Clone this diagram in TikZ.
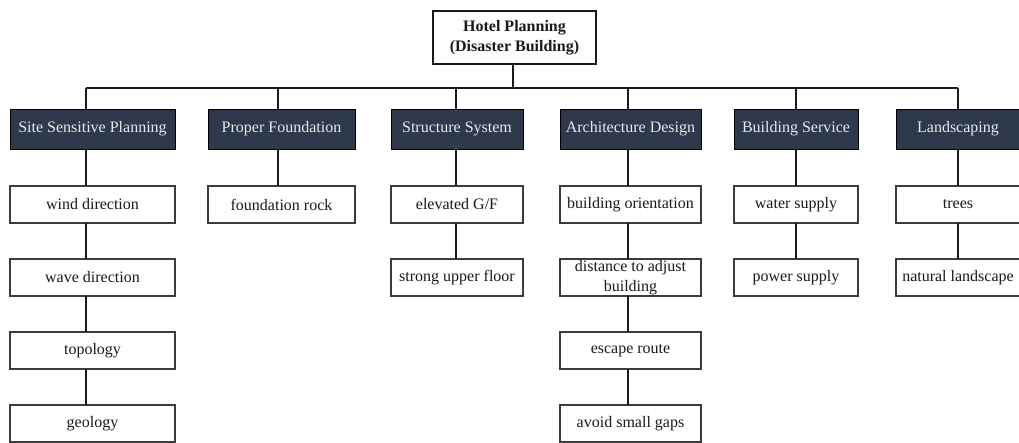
\documentclass[tikz,border=0pt]{standalone}
\usepackage{fontspec}
\setmainfont{Liberation Serif}
\usetikzlibrary{calc}
\definecolor{hdr}{HTML}{2E3A4B}
\definecolor{hdrtext}{HTML}{E8E8E8}
\definecolor{ink}{HTML}{1A1A1A}
\begin{document}
\begin{tikzpicture}[x=1pt,y=-1pt,
  every node/.style={inner sep=0pt,outer sep=0pt,font=\fontsize{16}{20}\selectfont,align=center},
  topbox/.style={draw=ink,line width=1.3pt,fill=white,text=ink,minimum width=163,minimum height=53,font=\fontsize{16}{20}\selectfont\bfseries},
  hdrbox/.style={draw=black,line width=0.8pt,fill=hdr,text=hdrtext,minimum height=40},
  leafbox/.style={draw=ink!85,line width=1.1pt,fill=white,text=ink,minimum height=37},
  conn/.style={draw=ink,line width=1.3pt}]
\useasboundingbox (0,0) rectangle (1019,442);
% top
\node[topbox] (top) at (514.5,37.5) {Hotel Planning\\(Disaster Building)};
% headers
\node[hdrbox,minimum width=165] (h1) at (92.5,129) {Site Sensitive Planning};
\node[hdrbox,minimum width=147] (h2) at (281.5,129) {Proper Foundation};
\node[hdrbox,minimum width=132] (h3) at (457,129) {Structure System};
\node[hdrbox,minimum width=141] (h4) at (630.5,129) {Architecture Design};
\node[hdrbox,minimum width=124] (h5) at (796,129) {Building Service};
\node[hdrbox,minimum width=124] (h6) at (958,129) {Landscaping};
% leaves column 1
\node[leafbox,minimum width=165] (a1) at (92.5,204.5) {wind direction};
\node[leafbox,minimum width=165] (a2) at (92.5,277.5) {wave direction};
\node[leafbox,minimum width=165] (a3) at (92.5,350.5) {topology};
\node[leafbox,minimum width=165] (a4) at (92.5,423.5) {geology};
% column 2
\node[leafbox,minimum width=147] (b1) at (281.5,204.5) {foundation rock};
% column 3
\node[leafbox,minimum width=132] (c1) at (457,204.5) {elevated G/F};
\node[leafbox,minimum width=132] (c2) at (457,277.5) {strong upper floor};
% column 4
\node[leafbox,minimum width=141] (d1) at (630.5,204.5) {building orientation};
\node[leafbox,minimum width=141] (d2) at (630.5,277.5) {distance to adjust\\building};
\node[leafbox,minimum width=141] (d3) at (630.5,350.5) {escape route};
\node[leafbox,minimum width=141] (d4) at (630.5,423.5) {avoid small gaps};
% column 5
\node[leafbox,minimum width=124] (e1) at (796,204.5) {water supply};
\node[leafbox,minimum width=124] (e2) at (796,277.5) {power supply};
% column 6
\node[leafbox,minimum width=124] (f1) at (958,204.5) {trees};
\node[leafbox,minimum width=124] (f2) at (958,277.5) {natural landscape};
% stems
\coordinate (bus) at (0,88);
\coordinate (s1) at ($(h1.north)+(-6.5,0)$);
\coordinate (s2) at ($(h2.north)+(-3.5,0)$);
\coordinate (s3) at ($(h3.north)+(-1,0)$);
\coordinate (s4) at ($(h4.north)+(-2.5,0)$);
\coordinate (s5) at (h5.north);
\coordinate (s6) at (h6.north);
\coordinate (s0) at ($(top.south)+(-1.5,0)$);
\draw[conn] (s0) -- (s0 |- bus);
\draw[conn] (s1 |- bus) -- (s6 |- bus);
\foreach \s/\h in {s1/h1,s2/h2,s3/h3,s4/h4,s5/h5,s6/h6}
  \draw[conn] (\s |- bus) -- (\s |- \h.north);
% vertical connectors
\draw[conn] (s1 |- h1.south) -- (s1 |- a1.north);
\draw[conn] (s1 |- a1.south) -- (s1 |- a2.north);
\draw[conn] (s1 |- a2.south) -- (s1 |- a3.north);
\draw[conn] (s1 |- a3.south) -- (s1 |- a4.north);
\draw[conn] (s2 |- h2.south) -- (s2 |- b1.north);
\draw[conn] (s3 |- h3.south) -- (s3 |- c1.north);
\draw[conn] (s3 |- c1.south) -- (s3 |- c2.north);
\draw[conn] (s4 |- h4.south) -- (s4 |- d1.north);
\draw[conn] (s4 |- d1.south) -- (s4 |- d2.north);
\draw[conn] (s4 |- d2.south) -- (s4 |- d3.north);
\draw[conn] (s4 |- d3.south) -- (s4 |- d4.north);
\draw[conn] (s5 |- h5.south) -- (s5 |- e1.north);
\draw[conn] (s5 |- e1.south) -- (s5 |- e2.north);
\draw[conn] (s6 |- h6.south) -- (s6 |- f1.north);
\draw[conn] (s6 |- f1.south) -- (s6 |- f2.north);
\end{tikzpicture}
\end{document}
